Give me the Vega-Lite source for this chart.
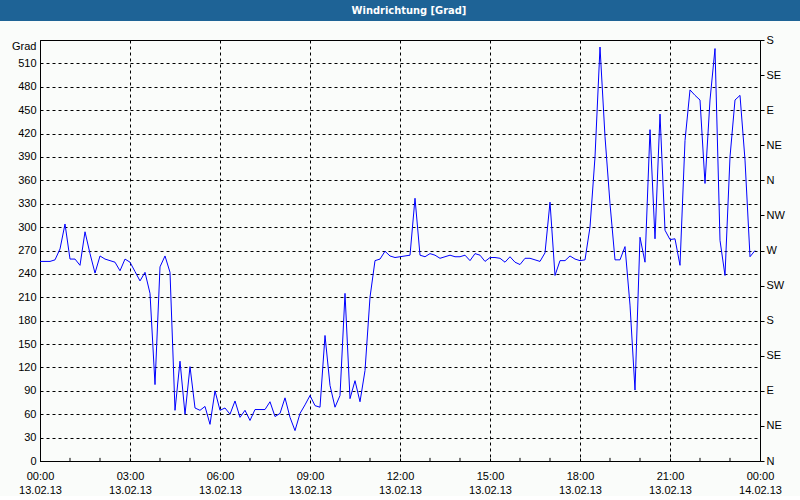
{
  "$schema": "https://vega.github.io/schema/vega-lite/v6.json",
  "background": "#fafcfa",
  "padding": 0,
  "spacing": 19,
  "bounds": "flush",
  "center": true,
  "config": {
    "font": "Liberation Sans",
    "axis": {
      "labelFont": "Liberation Sans", "labelFontSize": 11, "labelColor": "#000000",
      "titleFont": "Liberation Sans", "titleFontSize": 11, "titleFontWeight": "normal", "titleColor": "#000000",
      "domainColor": "#000000", "tickColor": "#000000",
      "gridColor": "#000000", "gridDash": [3, 3], "gridWidth": 1, "gridOpacity": 1
    }
  },
  "vconcat": [
    {
      "width": 800, "height": 21,
      "view": {"fill": "#1e6396", "stroke": null},
      "data": {"values": [{"t": "Windrichtung [Grad]"}]},
      "mark": {"type": "text", "color": "#ffffff", "font": "Liberation Sans Narrow, DejaVu Sans Condensed, Liberation Sans", "fontSize": 11, "fontWeight": "bold", "dx": 9},
      "encoding": {"text": {"field": "t"}}
    },
    {
      "width": 720, "height": 421,
      "view": {"stroke": "#000000", "strokeWidth": 1, "fill": null},
      "data": {"values": [
        {"m":0,"v":256},{"m":10,"v":256},{"m":20,"v":256},{"m":30,"v":258},{"m":40,"v":272},{"m":50,"v":304},
        {"m":60,"v":259},{"m":70,"v":259},{"m":80,"v":251},{"m":90,"v":294},{"m":100,"v":266},{"m":110,"v":241},
        {"m":120,"v":263},{"m":130,"v":259},{"m":140,"v":257},{"m":150,"v":255},{"m":160,"v":244},{"m":170,"v":259},
        {"m":180,"v":255},{"m":190,"v":243},{"m":200,"v":231},{"m":210,"v":242},{"m":220,"v":215},{"m":230,"v":98},
        {"m":240,"v":249},{"m":250,"v":263},{"m":260,"v":242},{"m":270,"v":65},{"m":280,"v":128},{"m":290,"v":60},
        {"m":300,"v":121},{"m":310,"v":68},{"m":320,"v":65},{"m":330,"v":70},{"m":340,"v":47},{"m":350,"v":90},
        {"m":360,"v":65},{"m":370,"v":68},{"m":380,"v":60},{"m":390,"v":77},{"m":400,"v":56},{"m":410,"v":65},
        {"m":420,"v":52},{"m":430,"v":66},{"m":440,"v":66},{"m":450,"v":66},{"m":460,"v":76},{"m":470,"v":57},
        {"m":480,"v":61},{"m":490,"v":81},{"m":500,"v":56},{"m":510,"v":39},{"m":520,"v":61},{"m":530,"v":72},
        {"m":540,"v":84},{"m":550,"v":71},{"m":560,"v":69},{"m":570,"v":161},{"m":580,"v":97},{"m":590,"v":69},
        {"m":600,"v":84},{"m":610,"v":215},{"m":620,"v":80},{"m":630,"v":103},{"m":640,"v":76},{"m":650,"v":116},
        {"m":660,"v":210},{"m":670,"v":257},{"m":680,"v":259},{"m":690,"v":269},{"m":700,"v":263},{"m":710,"v":261},
        {"m":720,"v":262},{"m":730,"v":263},{"m":740,"v":264},{"m":750,"v":337},{"m":760,"v":264},{"m":770,"v":262},
        {"m":780,"v":266},{"m":790,"v":264},{"m":800,"v":260},{"m":810,"v":262},{"m":820,"v":264},{"m":830,"v":262},
        {"m":840,"v":262},{"m":850,"v":264},{"m":860,"v":257},{"m":870,"v":266},{"m":880,"v":264},{"m":890,"v":256},
        {"m":900,"v":261},{"m":910,"v":261},{"m":920,"v":260},{"m":930,"v":255},{"m":940,"v":262},{"m":950,"v":255},
        {"m":960,"v":252},{"m":970,"v":260},{"m":980,"v":260},{"m":990,"v":258},{"m":1000,"v":256},{"m":1010,"v":267},
        {"m":1020,"v":332},{"m":1030,"v":238},{"m":1040,"v":257},{"m":1050,"v":257},{"m":1060,"v":263},{"m":1070,"v":259},
        {"m":1080,"v":257},{"m":1090,"v":258},{"m":1100,"v":300},{"m":1110,"v":390},{"m":1120,"v":531},{"m":1130,"v":416},
        {"m":1140,"v":330},{"m":1150,"v":258},{"m":1160,"v":258},{"m":1170,"v":275},{"m":1180,"v":200},{"m":1190,"v":91},
        {"m":1200,"v":287},{"m":1210,"v":255},{"m":1220,"v":425},{"m":1230,"v":285},{"m":1240,"v":445},{"m":1250,"v":296},
        {"m":1260,"v":284},{"m":1270,"v":285},{"m":1280,"v":251},{"m":1290,"v":411},{"m":1300,"v":476},{"m":1310,"v":469},
        {"m":1320,"v":463},{"m":1330,"v":356},{"m":1340,"v":463},{"m":1350,"v":529},{"m":1360,"v":283},{"m":1370,"v":238},
        {"m":1380,"v":390},{"m":1390,"v":463},{"m":1400,"v":469},{"m":1410,"v":386},{"m":1420,"v":262},{"m":1430,"v":270}
      ]},
      "layer": [
        {
          "mark": {"type": "line", "color": "#0000ff", "strokeWidth": 1},
          "encoding": {
            "x": {
              "field": "m", "type": "quantitative",
              "scale": {"domain": [0, 1440], "nice": false, "zero": false},
              "axis": {
                "title": null,
                "values": [0,180,360,540,720,900,1080,1260,1440],
                "labelExpr": "[((datum.value/60)%24 < 10 ? '0' : '') + ((datum.value/60)%24) + ':00', datum.value === 1440 ? '14.02.13' : '13.02.13']",
                "tickSize": -3,
                "labelPadding": 12,
                "labelFlush": false,
                "labelOverlap": false,
                "labelLineHeight": 14,
                "labelBaseline": "top",
                "grid": true
              }
            },
            "y": {
              "field": "v", "type": "quantitative",
              "scale": {"domain": [0, 540], "nice": false, "zero": true},
              "axis": {
                "values": [0,30,60,90,120,150,180,210,240,270,300,330,360,390,420,450,480,510],
                "tickSize": 0,
                "labelPadding": 4,
                "labelFlush": false,
                "labelOverlap": false,
                "grid": true,
                "title": "Grad",
                "titleAngle": 0,
                "titleAlign": "right",
                "titleBaseline": "middle",
                "titleX": -4,
                "titleY": 6
              }
            }
          }
        },
        {
          "data": {"values": [
            {"m":60},{"m":120},{"m":240},{"m":300},{"m":420},{"m":480},{"m":600},{"m":660},
            {"m":780},{"m":840},{"m":960},{"m":1020},{"m":1140},{"m":1200},{"m":1320},{"m":1380}
          ]},
          "mark": {"type": "rule", "color": "#000000", "strokeWidth": 1},
          "encoding": {
            "x": {"field": "m", "type": "quantitative"},
            "y": {"datum": 0, "type": "quantitative", "axis": null},
            "y2": {"datum": 4}
          }
        },
        {
          "mark": {"type": "line", "strokeOpacity": 0},
          "encoding": {
            "x": {"field": "m", "type": "quantitative"},
            "y": {
              "field": "v", "type": "quantitative",
              "axis": {
                "orient": "right",
                "values": [0,45,90,135,180,225,270,315,360,405,450,495,540],
                "labelExpr": "['N','NE','E','SE','S','SW','W','NW'][(datum.value/45)%8]",
                "tickSize": 4,
                "labelPadding": 2,
                "labelFlush": false,
                "labelOverlap": false,
                "grid": false,
                "title": null
              }
            }
          }
        }
      ],
      "resolve": {"axis": {"y": "independent"}}
    }
  ]
}
